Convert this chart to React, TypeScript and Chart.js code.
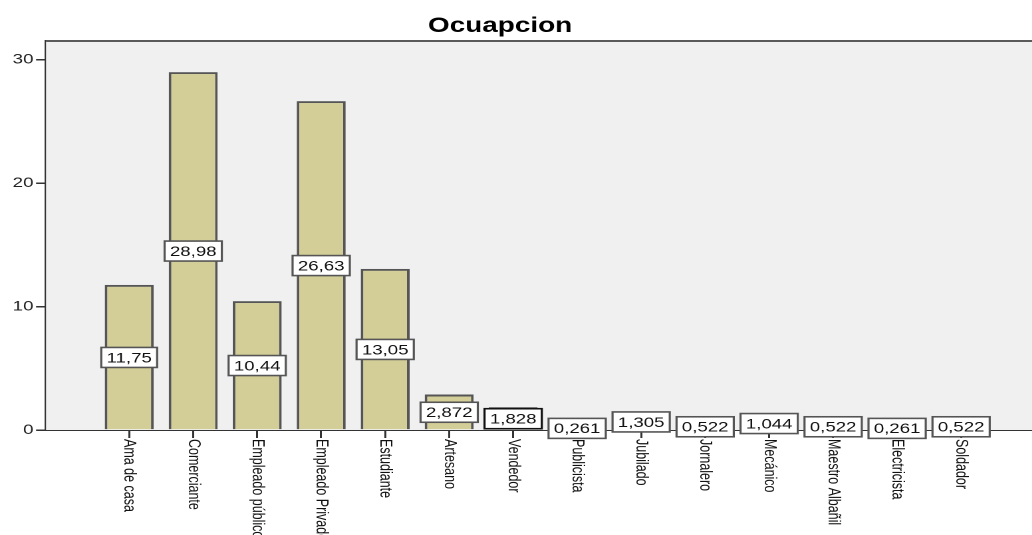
import React, { useEffect, useRef } from "react";
import { Chart, registerables } from "chart.js";

Chart.register(...registerables);

const title = "Ocuapcion";
const categories = [
  "Ama de casa",
  "Comerciante",
  "Empleado público",
  "Empleado Privado",
  "Estudiante",
  "Artesano",
  "Vendedor",
  "Publicista",
  "Jubilado",
  "Jornalero",
  "Mecánico",
  "Maestro Albañil",
  "Electricista",
  "Soldador",
];
const percents = [11.75, 28.98, 10.44, 26.63, 13.05, 2.872, 1.828, 0.261, 1.305, 0.522, 1.044, 0.522, 0.261, 0.522];
const yTicks = [0, 10, 20, 30];

const FONT = "'Liberation Sans', Arial, sans-serif";
const STRETCH = 1.33;
const CW = 790;
const CH = 535;

const fmt = (v: number) => String(v).replace(".", ",");

export default function App() {
  const ref = useRef<HTMLCanvasElement | null>(null);

  useEffect(() => {
    if (!ref.current) return;

    const decor = {
      id: "decor",
      beforeDatasetsDraw(chart: any) {
        const { ctx, chartArea } = chart;
        ctx.save();
        ctx.fillStyle = "#f0f0f0";
        ctx.fillRect(chartArea.left, chartArea.top, chartArea.right - chartArea.left, chartArea.bottom - chartArea.top);
        ctx.strokeStyle = "#5a5a5a";
        ctx.lineWidth = 2;
        ctx.beginPath();
        ctx.moveTo(chartArea.left, chartArea.top);
        ctx.lineTo(chartArea.right, chartArea.top);
        ctx.stroke();
        ctx.restore();
      },
      afterDraw(chart: any) {
        const { ctx } = chart;
        const xs = chart.scales.x;
        const ys = chart.scales.y;
        ctx.save();
        // title
        ctx.fillStyle = "#000";
        ctx.font = `bold 21px ${FONT}`;
        ctx.textAlign = "center";
        ctx.textBaseline = "middle";
        ctx.fillText(title, 376, 26);
        // value labels
        const meta = chart.getDatasetMeta(0);
        ctx.font = `14px ${FONT}`;
        meta.data.forEach((bar: any, i: number) => {
          const v = percents[i];
          const y = ys.getPixelForValue(v / 2);
          const txt = fmt(v);
          const tw = ctx.measureText(txt).width;
          const w = tw + 8;
          const h = 20;
          ctx.fillStyle = "#ffffff";
          ctx.fillRect(bar.x - w / 2, y - h / 2, w, h);
          ctx.strokeStyle = i === 6 ? "#111" : "#555";
          ctx.lineWidth = 1.6;
          ctx.strokeRect(bar.x - w / 2, y - h / 2, w, h);
          ctx.fillStyle = "#111";
          ctx.textAlign = "center";
          ctx.textBaseline = "middle";
          ctx.fillText(txt, bar.x, y + 1);
        });
        // rotated category labels (reading top to bottom)
        ctx.font = `12.5px ${FONT}`;
        ctx.fillStyle = "#111";
        categories.forEach((c, i) => {
          const x = xs.getPixelForValue(i);
          ctx.save();
          ctx.translate(x, xs.top + 9);
          ctx.rotate(Math.PI / 2);
          ctx.textAlign = "left";
          ctx.textBaseline = "middle";
          ctx.fillText(c, 0, 0);
          ctx.restore();
        });
        ctx.restore();
      },
    };

    const chart = new Chart(ref.current, {
      type: "bar",
      data: {
        datasets: [
          {
            data: percents.map((v, i) => ({ x: i, y: v })),
            backgroundColor: "#d3ce97",
            borderColor: percents.map((_, i) => (i === 6 ? "#111" : "#555")),
            borderWidth: 2,
            borderSkipped: "bottom",
            barPercentage: 0.765,
            categoryPercentage: 1,
          },
        ],
      },
      options: {
        responsive: false,
        animation: false,
        devicePixelRatio: 2,
        layout: { padding: { top: 41, left: 0, right: 0, bottom: 0 } },
        plugins: {
          legend: { display: false },
          title: { display: false },
          tooltip: { enabled: false },
        },
        scales: {
          x: {
            type: "linear",
            min: -1.3,
            max: 14.4,
            offset: false,
            afterBuildTicks: (s: any) => {
              s.ticks = categories.map((_, i) => ({ value: i }));
            },
            afterFit: (s: any) => {
              s.height = 105;
            },
            ticks: { display: false },
            grid: {
              offset: false,
              drawOnChartArea: false,
              drawTicks: true,
              tickLength: 8,
              color: "#333",
              lineWidth: 1.5,
            },
            border: { display: true, color: "#333", width: 2 },
          },
          y: {
            min: 0,
            max: 31.5,
            afterBuildTicks: (s: any) => {
              s.ticks = yTicks.map((v) => ({ value: v }));
            },
            afterFit: (s: any) => {
              s.width = 34.6;
            },
            ticks: {
              font: { family: FONT, size: 14 },
              color: "#222",
              padding: 2,
            },
            grid: {
              drawOnChartArea: false,
              drawTicks: true,
              tickLength: 7.5,
              color: "#333",
              lineWidth: 1.5,
            },
            border: { display: true, color: "#333", width: 2 },
          },
        },
      },
      plugins: [decor],
    } as any);

    return () => chart.destroy();
  }, []);

  return (
    <div
      style={{
        position: "absolute",
        left: 0,
        top: 0,
        width: 1032,
        height: 535,
        overflow: "hidden",
        background: "#fff",
      }}
    >
      <div
        style={{
          width: CW,
          height: CH,
          transform: `scaleX(${STRETCH})`,
          transformOrigin: "0 0",
        }}
      >
        <canvas ref={ref} width={CW} height={CH} style={{ width: CW, height: CH, display: "block" }} />
      </div>
    </div>
  );
}
